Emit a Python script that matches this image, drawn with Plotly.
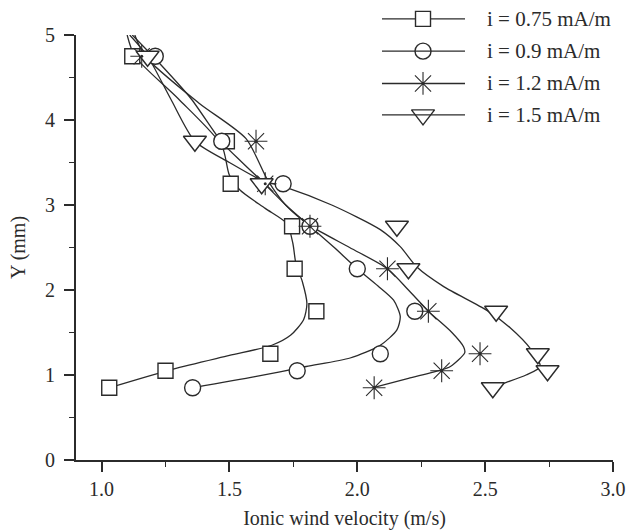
import plotly.graph_objects as go

# ---- data ----
y_levels = [0.85, 1.05, 1.25, 1.75, 2.25, 2.75, 3.25, 3.75, 4.75]
v_075 = [1.03, 1.25, 1.66, 1.84, 1.755, 1.745, 1.505, 1.49, 1.12]
v_090 = [1.356, 1.765, 2.09, 2.225, 2.00, 1.815, 1.71, 1.47, 1.21]
v_120 = [2.066, 2.33, 2.48, 2.278, 2.118, 1.815, 1.64, 1.604, 1.157]
v_150 = [2.53, 2.744, 2.706, 2.543, 2.20, 2.155, 1.626, 1.365, 1.18]

# fitted curves
fit_075_x = [1.10, 1.13, 1.30, 1.47, 1.50, 1.54, 1.64, 1.725, 1.748, 1.760, 1.785, 1.803, 1.79, 1.74, 1.666, 1.50, 1.28, 1.03]
fit_075_y = [5.0, 4.75, 4.25, 3.70, 3.35, 3.18, 2.96, 2.78, 2.55, 2.31, 2.10, 1.84, 1.65, 1.47, 1.35, 1.23, 1.07, 0.85]
fit_090_x = [1.12, 1.21, 1.35, 1.47, 1.55, 1.63, 1.72, 1.815, 1.91, 2.00, 2.08, 2.142, 2.168, 2.155, 2.09, 1.972, 1.80, 1.60, 1.356]
fit_090_y = [5.0, 4.72, 4.25, 3.74, 3.50, 3.27, 3.00, 2.75, 2.50, 2.25, 2.05, 1.88, 1.69, 1.53, 1.35, 1.20, 1.10, 0.98, 0.85]
fit_120_x = [1.13, 1.17, 1.38, 1.565, 1.65, 1.72, 1.815, 1.97, 2.118, 2.20, 2.28, 2.37, 2.416, 2.42, 2.364, 2.33, 2.20, 2.066]
fit_120_y = [5.0, 4.75, 4.20, 3.78, 3.29, 3.00, 2.76, 2.50, 2.25, 2.00, 1.745, 1.50, 1.33, 1.26, 1.10, 1.06, 0.96, 0.855]
fit_150_x = [1.11, 1.18, 1.27, 1.365, 1.50, 1.627, 1.71, 1.90, 2.09, 2.168, 2.233, 2.338, 2.507, 2.60, 2.677, 2.716, 2.66, 2.572, 2.53]
fit_150_y = [5.0, 4.75, 4.25, 3.75, 3.50, 3.29, 3.22, 3.00, 2.71, 2.51, 2.27, 2.04, 1.76, 1.55, 1.31, 1.10, 1.00, 0.90, 0.85]

labels = ["i = 0.75 mA/m", "i = 0.9 mA/m", "i = 1.2 mA/m", "i = 1.5 mA/m"]
symbols = ["square", "circle", "asterisk-open", "triangle-down"]
sizes = [15, 16, 19, 20]

INK = "#2b2b2b"
FONT = "Liberation Serif"

series = [v_075, v_090, v_120, v_150]
fits = [(fit_075_x, fit_075_y), (fit_090_x, fit_090_y), (fit_120_x, fit_120_y), (fit_150_x, fit_150_y)]


def marker_style(sym, sz):
    if sym.endswith("-open"):
        return dict(symbol=sym, size=sz, color=INK, line=dict(color=INK, width=1.1))
    return dict(symbol=sym, size=sz, color="white", line=dict(color=INK, width=1.4))


fig = go.Figure()
for (fx, fy) in fits:
    fig.add_trace(go.Scatter(x=fx, y=fy, mode="lines",
                             line=dict(color=INK, width=1.3, shape="spline", smoothing=0.7),
                             showlegend=False, hoverinfo="skip"))
for vals, sym, sz, lab in zip(series, symbols, sizes, labels):
    fig.add_trace(go.Scatter(x=vals, y=y_levels, mode="markers", name=lab,
                             marker=marker_style(sym, sz),
                             showlegend=False, cliponaxis=False))
# centre dots of the asterisks
fig.add_trace(go.Scatter(x=v_120, y=y_levels, mode="markers",
                         marker=dict(symbol="circle", size=3, color=INK),
                         showlegend=False, hoverinfo="skip"))

# ---- custom legend (long line segments like the reference) ----
leg_x0, leg_x1, leg_xm, leg_tx = 0.5698, 0.7244, 0.6462, 0.7616
leg_rows = [1.038, 0.962, 0.886, 0.812]
for i, (row, sym, sz, lab) in enumerate(zip(leg_rows, symbols, sizes, labels)):
    fig.add_shape(type="line", xref="paper", yref="paper", x0=leg_x0, x1=leg_x1, y0=row, y1=row,
                  line=dict(color=INK, width=1.4))
    if row > 1.0:
        half = sz / 2
        fig.add_shape(type="rect", xref="paper", yref="paper",
                      xsizemode="pixel", ysizemode="pixel", xanchor=leg_xm, yanchor=row,
                      x0=-half, x1=half, y0=-half, y1=half,
                      fillcolor="white", line=dict(color=INK, width=1.4))
    else:
        fig.add_trace(go.Scatter(x=[leg_xm], y=[row], xaxis="x2", yaxis="y2", mode="markers",
                                 marker=marker_style(sym, sz),
                                 showlegend=False, cliponaxis=False, hoverinfo="skip"))
    fig.add_annotation(x=leg_tx, y=row, xref="paper", yref="paper", text=lab, showarrow=False,
                       xanchor="left", yanchor="middle", font=dict(family=FONT, size=21, color=INK))

axis_common = dict(showline=True, linecolor=INK, linewidth=1.8, ticks="outside", ticklen=10,
                   tickwidth=1.6, tickcolor=INK, showgrid=False, zeroline=False, automargin=False,
                   tickfont=dict(family=FONT, size=20, color=INK), mirror=False)

fig.update_layout(
    width=627, height=530,
    margin=dict(l=76, r=14, t=35, b=70),
    paper_bgcolor="white", plot_bgcolor="white",
    showlegend=False,
    xaxis=dict(range=[0.9, 3.0], tickvals=[1.0, 1.5, 2.0, 2.5, 3.0],
               ticktext=["1.0", "1.5", "2.0", "2.5", "3.0"],
               minor=dict(dtick=0.25, tick0=0, ticks="outside", ticklen=5, tickwidth=1.4, tickcolor=INK),
               title=dict(text="Ionic wind velocity (m/s)", font=dict(family=FONT, size=20, color=INK), standoff=14),
               **axis_common),
    yaxis=dict(range=[0, 5], tickvals=[0, 1, 2, 3, 4, 5], ticklabelstandoff=5,
               minor=dict(dtick=0.5, tick0=0, ticks="outside", ticklen=5, tickwidth=1.4, tickcolor=INK),
               title=dict(text="Y (mm)", font=dict(family=FONT, size=20, color=INK), standoff=14),
               **axis_common),
    xaxis2=dict(range=[0, 1], overlaying="x", visible=False, anchor="y2"),
    yaxis2=dict(range=[0, 1], overlaying="y", visible=False, anchor="x2"),
)

fig.write_html("out.html")
